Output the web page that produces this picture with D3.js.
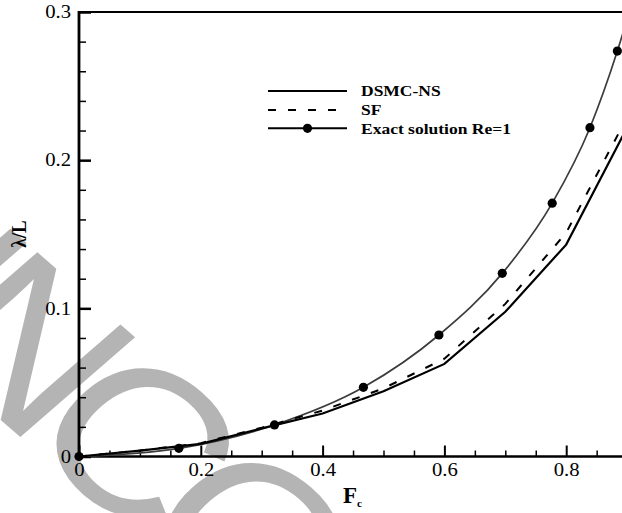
<!DOCTYPE html>
<html>
<head>
<meta charset="utf-8">
<script src="https://cdn.jsdelivr.net/npm/d3@7"></script>
<style>
  html, body { margin: 0; padding: 0; background: #fff; }
  svg { display: block; }
  text { font-family: "Liberation Serif", "Times New Roman", serif; fill: #000; }
</style>
</head>
<body>
<svg id="chart" width="622" height="513"></svg>
<script>
// Friction factor F_c versus normalised wavelength λ/L
const fTicks = [0, 0.2, 0.4, 0.6, 0.8];
const lambdaTicks = [0, 0.1, 0.2, 0.3];

// DSMC-NS (solid) and SF (dashed) results
const dsmcF = [0, 0.1, 0.2, 0.3, 0.4, 0.5, 0.6, 0.7, 0.8, 0.9];
const dsmcY = [0, 0.004, 0.0085, 0.019, 0.029, 0.044, 0.0625, 0.0977, 0.143, 0.222];
const sfF = [0, 0.1, 0.2, 0.3, 0.4, 0.5, 0.6, 0.7, 0.8, 0.9];
const sfY = [0, 0.004, 0.009, 0.0195, 0.031, 0.046, 0.066, 0.103, 0.151, 0.229];

// Exact solution, Re = 1 (marked points, curve continues to the axis end)
const exactF = [0, 0.164, 0.321, 0.467, 0.591, 0.695, 0.777, 0.839, 0.884];
const exactY = [0, 0.0055, 0.0213, 0.0467, 0.082, 0.1236, 0.171, 0.2219, 0.2736];
const exactTailF = [0.9];
const exactTailY = [0.295];

const seriesNames = ["DSMC-NS", "SF", "Exact solution Re=1"];

const W = 622, H = 513;
const plotLeft = 79, plotTop = 12, plotBottom = 456.5;
const SX = 1.15; // horizontal stretch of the lettering

const x = d3.scaleLinear().domain([0, 0.9]).range([plotLeft, plotLeft + 0.9 * 609]);
const y = d3.scaleLinear().domain([0, 0.3]).range([plotBottom, plotTop]);

const svg = d3.select("#chart");
svg.append("rect").attr("width", W).attr("height", H).attr("fill", "#fff");

// Diagonal proof stamp behind the plot
svg.append("text")
  .attr("transform", `scale(${SX},1) rotate(45) scale(1.05,1)`)
  .attr("x", 47).attr("y", 296.5)
  .style("font-family", "'Liberation Sans', Arial, sans-serif")
  .style("font-size", "205px")
  .style("letter-spacing", "-20px")
  .style("fill", "#b4b4b4")
  .text("UNCORRECTED PROOF");

const fmt = d => d === 0 ? "0" : d.toFixed(1);

// Bottom axis: major + minor ticks pointing inward
const minorF = d3.range(0, 0.9001, 0.05).map(v => +v.toFixed(2)).filter(v => !fTicks.includes(v));
svg.append("g").attr("transform", `translate(0,${plotBottom})`)
  .call(d3.axisBottom(x).tickValues(minorF).tickSize(-6).tickFormat(""))
  .call(g => g.select(".domain").remove())
  .call(g => g.selectAll("line").attr("stroke", "#000").attr("stroke-width", 1.5));
const xAx = svg.append("g").attr("transform", `translate(0,${plotBottom})`)
  .call(d3.axisBottom(x).tickValues(fTicks).tickSize(-11).tickPadding(7).tickFormat(fmt))
  .call(g => g.select(".domain").remove())
  .call(g => g.selectAll("line").attr("stroke", "#000").attr("stroke-width", 2));
xAx.selectAll("text")
  .attr("font-family", null).attr("font-size", null)
  .style("font-size", "18px")
  .attr("transform", `scale(${SX},1)`);

// Left axis
const minorL = d3.range(0, 0.3001, 0.02).map(v => +v.toFixed(2)).filter(v => !lambdaTicks.includes(v));
svg.append("g").attr("transform", `translate(${plotLeft},0)`)
  .call(d3.axisLeft(y).tickValues(minorL).tickSize(-7).tickFormat(""))
  .call(g => g.select(".domain").remove())
  .call(g => g.selectAll("line").attr("stroke", "#000").attr("stroke-width", 1.5));
const yAx = svg.append("g").attr("transform", `translate(${plotLeft},0)`)
  .call(d3.axisLeft(y).tickValues(lambdaTicks).tickSize(-12).tickPadding(8).tickFormat(fmt))
  .call(g => g.select(".domain").remove())
  .call(g => g.selectAll("line").attr("stroke", "#000").attr("stroke-width", 2.5));
yAx.selectAll("text")
  .attr("font-family", null).attr("font-size", null)
  .style("font-size", "18px")
  .attr("x", -8 / SX)
  .attr("transform", `scale(${SX},1)`);

// Frame lines
svg.append("line").attr("x1", plotLeft).attr("x2", W).attr("y1", plotTop).attr("y2", plotTop)
  .attr("stroke", "#000").attr("stroke-width", 2);
svg.append("line").attr("x1", plotLeft).attr("x2", W).attr("y1", plotBottom).attr("y2", plotBottom)
  .attr("stroke", "#000").attr("stroke-width", 2.6);
svg.append("line").attr("x1", plotLeft).attr("x2", plotLeft).attr("y1", plotTop - 1).attr("y2", plotBottom + 1)
  .attr("stroke", "#000").attr("stroke-width", 2.8);

// Curves
const lin = d3.line().x(d => x(d[0])).y(d => y(d[1]));
const smooth = d3.line().x(d => x(d[0])).y(d => y(d[1])).curve(d3.curveMonotoneX);

const exactPts = exactF.map((f, i) => [f, exactY[i]])
  .concat(exactTailF.map((f, i) => [f, exactTailY[i]]));
svg.append("path").datum(exactPts).attr("d", smooth)
  .attr("fill", "none").attr("stroke", "#3c3c3c").attr("stroke-width", 1.7);

svg.append("path").datum(sfF.map((f, i) => [f, sfY[i]])).attr("d", lin)
  .attr("fill", "none").attr("stroke", "#000").attr("stroke-width", 2)
  .attr("stroke-dasharray", "8,12");

svg.append("path").datum(dsmcF.map((f, i) => [f, dsmcY[i]])).attr("d", lin)
  .attr("fill", "none").attr("stroke", "#000").attr("stroke-width", 2.2);

svg.append("g").selectAll("circle")
  .data(exactF.map((f, i) => [f, exactY[i]]))
  .join("circle")
  .attr("cx", d => x(d[0])).attr("cy", d => y(d[1])).attr("r", 4.6)
  .attr("fill", "#000");

// Legend
const legendRows = [91, 110, 128.3];
const lg = svg.append("g");
seriesNames.forEach((name, i) => {
  const yy = legendRows[i];
  const ln = lg.append("line").attr("x1", 268).attr("x2", 347).attr("y1", yy).attr("y2", yy)
    .attr("stroke", "#000").attr("stroke-width", 2);
  if (i === 1) ln.attr("stroke-dasharray", "8,12");
  if (i === 2) lg.append("circle").attr("cx", 307.5).attr("cy", yy).attr("r", 4.6).attr("fill", "#000");
  lg.append("text")
    .attr("transform", `translate(361,${yy + 5.3}) scale(1.13,1)`)
    .style("font-size", "15.5px").style("font-weight", "bold")
    .text(name);
});

// Axis titles
const xt = svg.append("text").attr("x", 343).attr("y", 503)
  .style("font-size", "23px").style("font-weight", "bold");
xt.append("tspan").text("F");
xt.append("tspan").attr("dy", 4).style("font-size", "11px").text("c");

svg.append("text")
  .attr("transform", `translate(26,234) rotate(-90) scale(1,${SX})`)
  .attr("text-anchor", "middle")
  .style("font-size", "19px").style("font-weight", "bold")
  .text("λ/L");
</script>
</body>
</html>
